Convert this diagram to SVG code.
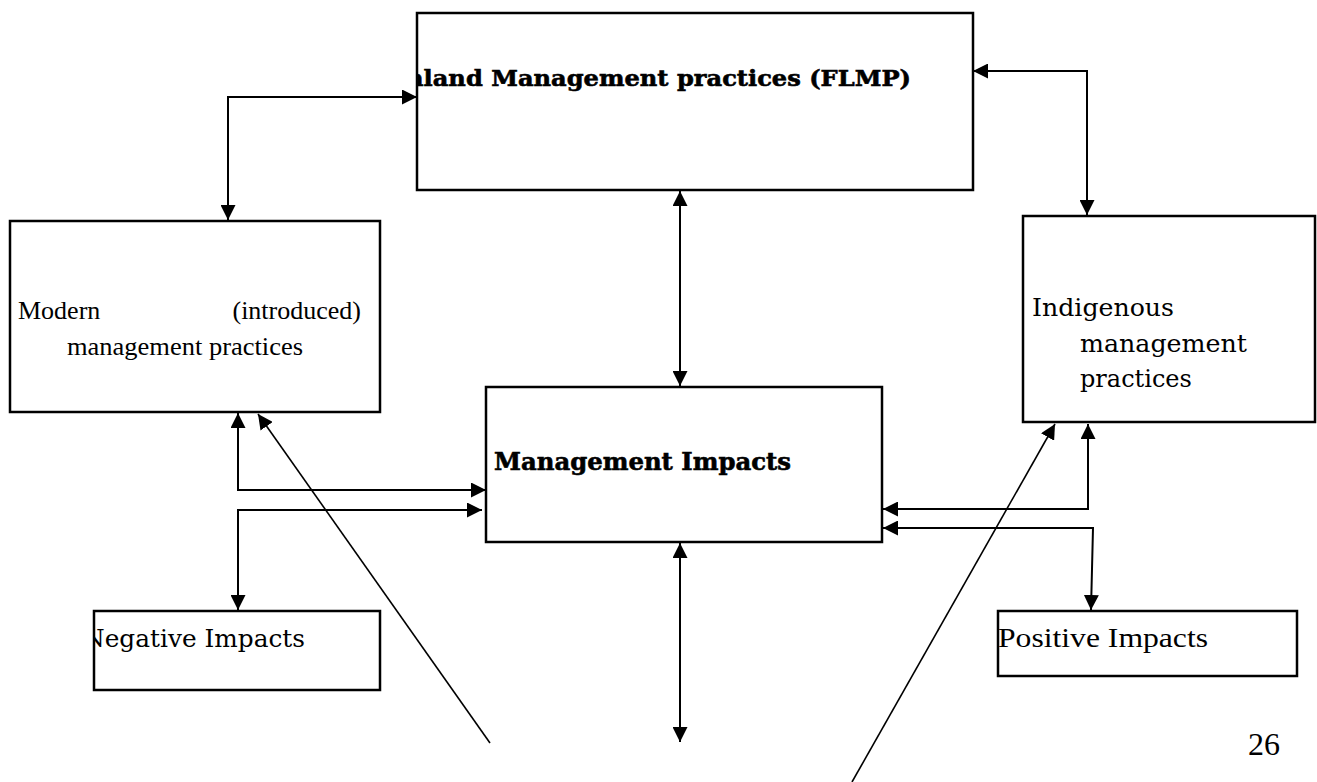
<svg xmlns="http://www.w3.org/2000/svg" width="1317" height="782" viewBox="0 0 1317 782">
<style>
.box{fill:#fff;stroke:#000;stroke-width:2.5}
.ln{fill:none;stroke:#000;stroke-width:2}
.thin{fill:none;stroke:#000;stroke-width:1.6}
.bk{font-family:"DejaVu Serif",serif;fill:#000}
.bkb{font-family:"DejaVu Serif",serif;font-weight:bold;fill:#000;stroke:#000;stroke-width:0.6}
.tm{font-family:"Liberation Serif","Times New Roman",serif;fill:#000}
</style>
<defs>
<marker id="ah" viewBox="0 0 10 10" refX="10" refY="5" markerWidth="15" markerHeight="15" markerUnits="userSpaceOnUse" orient="auto-start-reverse">
<path d="M0,0 L10,5 L0,10 z" fill="#000"/>
</marker>
<clipPath id="c1"><rect x="418" y="14" width="554" height="175"/></clipPath>
<clipPath id="c2"><rect x="95" y="612" width="284" height="77"/></clipPath>
</defs>
<rect width="1317" height="782" fill="#fff"/>
<g id="flmp">
<rect class="box" x="417" y="13" width="556" height="177"/>
<text class="bkb" clip-path="url(#c1)" x="406" y="86" font-size="23" textLength="505" lengthAdjust="spacingAndGlyphs">nland Management practices (FLMP)</text>
</g>
<g id="modern">
<rect class="box" x="10" y="221" width="370" height="191"/>
<text class="tm" x="18" y="319" font-size="26">Modern</text>
<text class="tm" x="361" y="319" font-size="26" text-anchor="end">(introduced)</text>
<text class="tm" x="67" y="355" font-size="26" textLength="236" lengthAdjust="spacingAndGlyphs">management practices</text>
</g>
<g id="indigenous">
<rect class="box" x="1023" y="216" width="292" height="206"/>
<text class="bk" x="1032" y="316" font-size="24" textLength="142" lengthAdjust="spacingAndGlyphs">Indigenous</text>
<text class="bk" x="1080" y="352" font-size="24" textLength="167" lengthAdjust="spacingAndGlyphs">management</text>
<text class="bk" x="1080" y="387" font-size="24">practices</text>
</g>
<g id="impacts">
<rect class="box" x="486" y="387" width="396" height="155"/>
<text class="bkb" x="494" y="470" font-size="24" textLength="297" lengthAdjust="spacingAndGlyphs">Management Impacts</text>
</g>
<g id="negative">
<rect class="box" x="94" y="611" width="286" height="79"/>
<text class="bk" clip-path="url(#c2)" x="83" y="647" font-size="25" textLength="222" lengthAdjust="spacingAndGlyphs">Negative Impacts</text>
</g>
<g id="positive">
<rect class="box" x="998" y="611" width="299" height="65"/>
<text class="tm" x="998" y="647" font-size="27" textLength="210" lengthAdjust="spacingAndGlyphs">Positive Impacts</text>
</g>
<g id="connectors">
<path class="ln" d="M228,220 V97 H417" marker-start="url(#ah)" marker-end="url(#ah)"/>
<path class="ln" d="M973,71 H1087 V215" marker-start="url(#ah)" marker-end="url(#ah)"/>
<path class="ln" d="M680,191 V386" marker-start="url(#ah)" marker-end="url(#ah)"/>
<path class="ln" d="M238,413 V490 H486" marker-start="url(#ah)" marker-end="url(#ah)"/>
<path class="ln" d="M482,510 H238 V610" marker-start="url(#ah)" marker-end="url(#ah)"/>
<path class="ln" d="M680,543 V742" marker-start="url(#ah)" marker-end="url(#ah)"/>
<path class="ln" d="M1088,424 V509 H883" marker-start="url(#ah)" marker-end="url(#ah)"/>
<path class="ln" d="M883,528 H1093 L1091,610" marker-start="url(#ah)" marker-end="url(#ah)"/>
<path class="thin" d="M490,743 L258,414" marker-end="url(#ah)"/>
<path class="thin" d="M852,782 L1055,424" marker-end="url(#ah)"/>
</g>
<text class="tm" x="1248" y="755" font-size="32">26</text>
</svg>
